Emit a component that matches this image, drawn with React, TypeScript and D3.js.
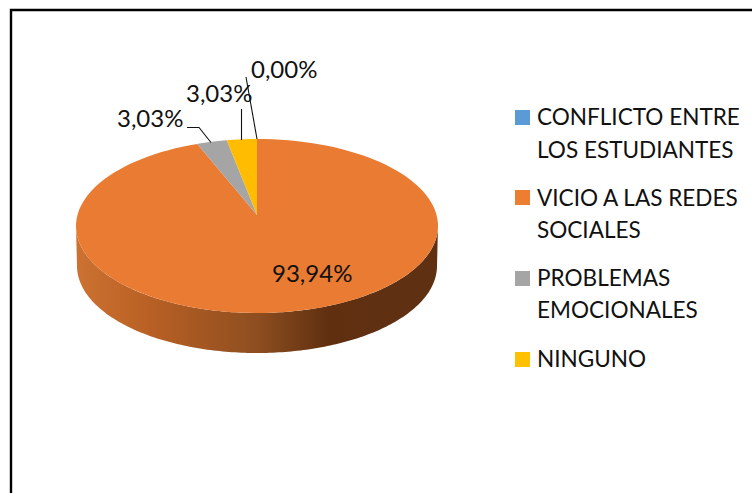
import React from "react";
import * as d3 from "d3";

const categories = ["CONFLICTO ENTRE|LOS ESTUDIANTES", "VICIO A LAS REDES|SOCIALES", "PROBLEMAS|EMOCIONALES", "NINGUNO"];
const values = [0, 93.94, 3.03, 3.03];
const valueLabels = ["0,00%", "93,94%", "3,03%", "3,03%"];
const colors = ["#5B9BD5", "#ED7D31", "#A5A5A5", "#FFC000"];
const topColors = ["#5B9BD5", "#E97B32", "#A5A5A5", "#FFBC00"];

const FONT = "Lato, Carlito, Calibri, sans-serif";
const cx = 257, cy = 226, rx = 181, ry = 87, depth = 40, k = 0.126;

// perspective projection of the unit disc onto the tilted ellipse
const project = (a: number, r = 1, dy = 0, rxx = rx): [number, number] => {
  const u = r * Math.sin(a), v = r * Math.cos(a);
  const w = 1 + k * v;
  return [cx + rxx * (u * Math.sqrt(1 - k * k)) / w, cy + dy - ry * (v + k) / w];
};

const sectors = d3.pie<number>().sort(null)(values);
const sectorPath = (s: d3.PieArcDatum<number>) => {
  if (s.endAngle - s.startAngle === 0) return "";
  const pts = d3.range(0, 121).map(i => project(s.startAngle + (s.endAngle - s.startAngle) * i / 120));
  return "M" + project(0, 0).join(",") + "L" + pts.map(p => p.join(",")).join("L") + "Z";
};

const ell = (t: number, dy: number, rxx: number): [number, number] =>
  [cx + rxx * Math.cos(t), cy + dy + ry * Math.sin(t)];
const sidePts = [
  ...d3.range(0, 181).map(i => ell((Math.PI * i) / 180, 0, rx)),
  ...d3.range(180, -1, -1).map(i => ell((Math.PI * i) / 180, depth, rx - 1)),
];
const sidePath = d3.line()(sidePts) + "Z";

const legendTop = [110, 190, 271, 352];
const legendBase = [[125, 158], [206, 238], [286, 318], [367]];
const labelPos: [number, number][] = [[251, 78], [272, 282], [117, 127], [186, 102]];
const leaders = [
  [[246, 77], [257, 139]],
  [],
  [[187, 127.5], [199, 127.5], [211, 142.5]],
  [[241.5, 109], [241.5, 140]],
] as [number, number][][];

export default function App() {
  const line = d3.line();
  return (
    <svg width={752} height={493} style={{ position: "absolute", left: 0, top: 0, background: "#fff" }} fontFamily={FONT}>
      <defs>
        <linearGradient id="side" gradientUnits="userSpaceOnUse" x1={cx - rx} x2={cx + rx} y1={0} y2={0}>
          <stop offset="0" stopColor="#CC7232" />
          <stop offset="0.2" stopColor="#B96024" />
          <stop offset="0.5" stopColor="#8E4E20" />
          <stop offset="0.7" stopColor="#5F2F10" />
          <stop offset="1" stopColor="#5F3112" />
        </linearGradient>
      </defs>
      <path d="M11,493V10H752" fill="none" stroke="#000" strokeWidth={2.4} />
      <path d={sidePath} fill="url(#side)" />
      {sectors.map((s, i) => <path key={i} d={sectorPath(s)} fill={topColors[i]} />)}
      {leaders.map((l, i) => l.length ? <path key={i} d={line(l) || ""} fill="none" stroke="#111" strokeWidth={1.1} /> : null)}
      {valueLabels.map((t, i) => (
        <text key={i} x={labelPos[i][0]} y={labelPos[i][1]} fontSize={24} fill="#111">{t}</text>
      ))}
      {categories.map((c, i) => (
        <g key={i}>
          <rect x={515} y={legendTop[i]} width={15} height={15} fill={colors[i]} />
          {c.split("|").map((t, j) => (
            <text key={j} transform={`translate(537,${legendBase[i][j]}) scale(0.94,1)`} fontSize={24} fill="#111">{t}</text>
          ))}
        </g>
      ))}
    </svg>
  );
}
